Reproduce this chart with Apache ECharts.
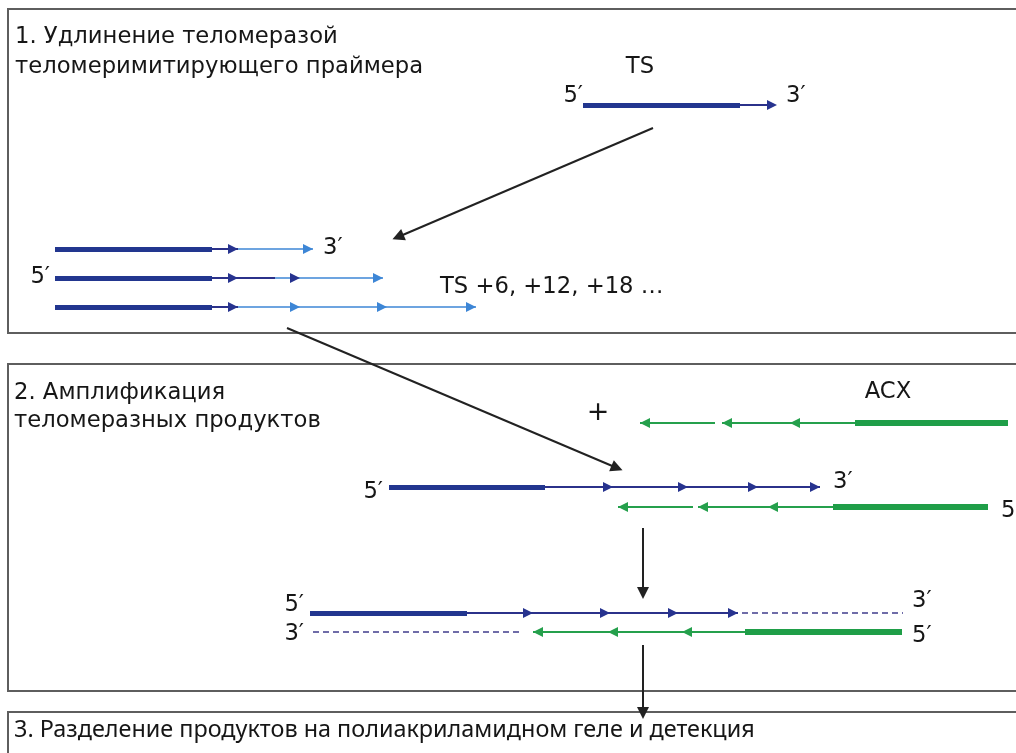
<!DOCTYPE html>
<html><head><meta charset="utf-8">
<script src="https://cdn.jsdelivr.net/npm/echarts@6/dist/echarts.min.js"></script>
<style>html,body{margin:0;padding:0;background:#fff}#c{width:1016px;height:753px}</style>
</head><body><div id="c"></div><script>
// ---- diagram data (diagram units = reference pixels) ----
const panels = [[8, 9, 333], [8, 364, 691], [8, 712, 770]]; // [left, top, bottom]
// strand segments: [x0, x1, y]
const navyThick = [[583, 740, 105], [55, 212, 249], [55, 212, 278], [55, 212, 307], [389, 545, 487], [310, 467, 613]];
const navyThin  = [[740, 772, 105], [212, 238, 249], [212, 275, 278], [212, 238, 307], [545, 820, 487], [467, 738, 613]];
const lightThin = [[238, 313, 249], [275, 383, 278], [238, 476, 307]];
const greenThick = [[855, 1008, 423], [833, 988, 507], [745, 902, 632]];
const greenThin  = [[640, 715, 423], [722, 855, 423], [618, 693, 507], [698, 833, 507], [533, 745, 632]];
const dashedSeg  = [[742, 903, 613], [313, 520, 632]];
// arrow tips: [x, y]
const navyTipsRight  = [[777, 105], [238, 249], [238, 278], [300, 278], [238, 307], [613, 487], [688, 487], [758, 487], [820, 487], [533, 613], [610, 613], [678, 613], [738, 613]];
const lightTipsRight = [[313, 249], [383, 278], [300, 307], [387, 307], [476, 307]];
const greenTipsLeft  = [[640, 423], [722, 423], [790, 423], [618, 507], [698, 507], [768, 507], [533, 632], [608, 632], [682, 632]];
// black step arrows: [[x0,y0],[x1,y1]]
const pointers = [[[653, 128], [398, 237]], [[287, 328], [617, 468]], [[643, 528], [643, 593]], [[643, 645], [643, 713]]];
// labels: [x, y, text, anchor]
const titleLabels = [
  [15, 37, '1. Удлинение теломеразой', 'l'],
  [15, 67, 'теломеримитирующего праймера', 'l'],
  [14, 393, '2. Амплификация', 'l'],
  [14, 421, 'теломеразных продуктов', 'l']
];
const stepLabel = [[14, 730, '3. Разделение продуктов на полиакриламидном геле и детекция', 'l']];
const endLabels = [
  [640, 67, 'TS', 'c'], [583, 96, '5′', 'r'], [786, 96, '3′', 'l'],
  [323, 248, '3′', 'l'], [50, 277, '5′', 'r'], [440, 287, 'TS +6, +12, +18 …', 'l'],
  [888, 392, 'ACX', 'c'], [383, 492, '5′', 'r'], [833, 482, '3′', 'l'], [1001, 511, '5′', 'l'],
  [304, 605, '5′', 'r'], [304, 634, '3′', 'r'], [912, 601, '3′', 'l'], [912, 636, '5′', 'l']
];
const plusLabel = [[598, 413, '+', 'c']];

// ---- build options ----
const segs = a => a.map(s => ({coords: [[s[0], s[2]], [s[1], s[2]]]}));
const linesSeries = (data, color, width, type) => ({
  type: 'lines', coordinateSystem: 'cartesian2d', silent: true, z: 2,
  lineStyle: {color, width, opacity: 1, type: type || 'solid', cap: 'butt'},
  symbol: 'none', data: segs(data)
});
const HL = 5;
const tips = (data, color, dir) => ({
  type: 'scatter', silent: true, z: 4, symbol: 'triangle', symbolSize: [10, 10],
  symbolRotate: dir > 0 ? -90 : 90, itemStyle: {color, opacity: 1},
  data: data.map(p => [p[0] - dir * HL, p[1]])
});
const posMap = {l: 'right', r: 'left', c: 'inside'};
const textSeries = (data, font) => ({
  type: 'scatter', silent: true, z: 5, symbolSize: 0, itemStyle: {opacity: 1},
  data: data.map(d => ({value: [d[0], d[1]], name: d[2], label: {position: posMap[d[3]]}})),
  label: Object.assign({show: true, formatter: p => p.name, distance: 0, color: '#161616', opacity: 1}, font)
});
const FONT = {fontFamily: '"DejaVu Sans", sans-serif', fontSize: 22.7};

const option = {
  animation: false,
  backgroundColor: '#ffffff',
  grid: {left: 0, right: 0, top: 0, bottom: 0},
  xAxis: {type: 'value', min: 0, max: 1016, show: false},
  yAxis: {type: 'value', min: 0, max: 753, inverse: true, show: false},
  series: [
    {type: 'lines', coordinateSystem: 'cartesian2d', polyline: true, silent: true, z: 1,
     lineStyle: {color: '#5e5e5e', width: 2, opacity: 1},
     data: panels.map(p => ({coords: [[1016, p[1]], [p[0], p[1]], [p[0], p[2]], [1016, p[2]]]}))},
    linesSeries(navyThick, '#22368f', 5),
    linesSeries(navyThin, '#2b318a', 2),
    linesSeries(lightThin, '#3d86d6', 1.6),
    linesSeries(greenThick, '#1f9e48', 6),
    linesSeries(greenThin, '#25a04c', 2),
    linesSeries(dashedSeg, '#6f6ca8', 2, [6, 4]),
    tips(navyTipsRight, '#27338f', 1),
    tips(lightTipsRight, '#3d86d6', 1),
    tips(greenTipsLeft, '#25a04c', -1),
    {type: 'lines', coordinateSystem: 'cartesian2d', silent: true, z: 3,
     lineStyle: {color: '#222222', width: 2, opacity: 1},
     symbol: ['none', 'triangle'], symbolSize: [10, 12],
     data: pointers.map(p => ({coords: p}))},
    textSeries(titleLabels, FONT),
    textSeries(stepLabel, {fontFamily: '"Noto Sans", sans-serif', fontSize: 23.4}),
    textSeries(endLabels, FONT),
    textSeries(plusLabel, {fontFamily: '"DejaVu Sans", sans-serif', fontSize: 27, fontStyle: 'italic', fontWeight: 300})
  ]
};
echarts.init(document.getElementById('c')).setOption(option);
</script></body></html>
